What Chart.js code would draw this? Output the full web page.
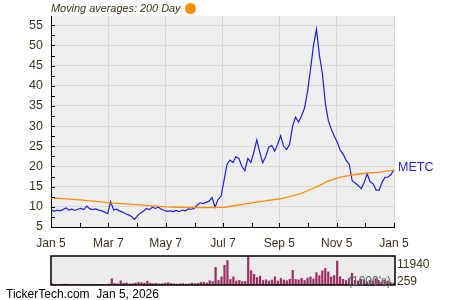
<!DOCTYPE html>
<html>
<head>
<meta charset="utf-8">
<script src="https://cdn.jsdelivr.net/npm/chart.js@4/dist/chart.umd.min.js"></script>
<style>
  body{
    margin:0;
    width:450px;
    height:300px;
    overflow:hidden;
    background:#fff;
    font-family:"Liberation Sans", Arial, sans-serif;
  }
  #priceChart{ position:absolute; left:0; top:0; }
  #volumeChart{ position:absolute; left:0; top:250px; }
  .txt{ position:absolute; white-space:nowrap; font-size:12px; line-height:14px; color:#3c3220; }
  #title{ left:51px; top:1px; font-style:italic; font-size:10.9px; }
  #dot{
    position:absolute; left:185px; top:3px;
    width:11px; height:11px; border-radius:50%;
    background:#ff8c00;
  }
  #footer{ left:6px; top:287px; color:#000; }
  #volMax{ left:397px; top:257px; }
  #volMin{ left:397px; top:274px; }
  #units{ left:348px; top:274px; color:#4a7060; z-index:2; }
</style>
</head>
<body>

<canvas id="priceChart" width="450" height="252"></canvas>
<canvas id="volumeChart" width="450" height="40"></canvas>

<div class="txt" id="title">Moving averages: 200 Day</div>
<div id="dot"></div>
<div class="txt" id="volMax">11940</div>
<div class="txt" id="volMin">259</div>
<div class="txt" id="units">(1000's)</div>
<div class="txt" id="footer">TickerTech.com&nbsp;&nbsp;Jan 5, 2026</div>

<script>

/* DATA */

const ticker = "METC";

// x axis: days since Jan 5, 2025
const tickDays = [0, 61, 122, 183, 243, 304, 365];
const tickLabels = ["Jan 5","Mar 7","May 7","Jul 7","Sep 5","Nov 5","Jan 5"];
const minorTickDays = [31, 92, 153, 214, 273, 334];

const yTicks = [5,10,15,20,25,30,35,40,45,50,55];
const yMinorTicks = [7.5,12.5,17.5,22.5,27.5,32.5,37.5,42.5,47.5,52.5];

// closing price, sampled evenly across the year
const priceValues = [
  9.4, 8.9, 9.2, 9.0, 9.3, 9.7, 9.2, 9.4, 9.1, 9.4,
  9.6, 9.3, 10.2, 9.5, 9.3, 9.5, 9.2, 9.0, 8.7, 8.3,
  11.3, 9.2, 9.4, 9.0, 8.7, 8.3, 8.0, 7.6, 6.9, 7.8,
  8.5, 8.9, 9.6, 9.3, 9.9, 9.6, 9.9, 9.4, 9.1, 8.9,
  9.0, 8.8, 9.1, 8.8, 9.2, 9.0, 9.5, 9.4, 9.6, 10.4,
  11.0, 10.8, 11.1, 11.4, 12.3, 9.9, 11.8, 12.6, 16.5, 20.5,
  21.6, 21.0, 22.4, 22.0, 20.0, 19.0, 22.0, 21.0, 23.5, 26.6,
  23.5, 20.9, 22.5, 24.8, 25.2, 23.8, 25.5, 27.6, 25.0, 24.2,
  25.5, 30.0, 32.2, 31.0, 32.5, 34.5, 38.5, 44.0, 50.0, 54.0,
  47.5, 43.0, 35.5, 31.3, 29.2, 27.5, 26.0, 24.0, 23.0, 21.5,
  20.5, 16.4, 15.9, 15.3, 14.5, 16.0, 18.2, 16.2, 15.7, 14.2,
  14.1, 16.1, 17.3, 17.4, 18.0, 19.2
];

// 200 day moving average
const maDays = [0, 31, 63, 95, 122, 137, 159, 185, 209, 228, 244, 265, 279, 286, 294, 307, 318, 329, 350, 365];
const maValues = [12.2, 11.7, 11.0, 10.5, 10.0, 9.9, 9.8, 9.9, 10.8, 11.5, 12.0, 13.2, 14.6, 15.3, 16.3, 17.3, 17.8, 18.2, 18.6, 19.1];

// volume (shares), same sampling as price
const volumeValues = [
  600, 400, 300, 400, 500, 450, 350, 400, 300, 350,
  400, 300, 350, 400, 300, 350, 400, 350, 400, 500,
  2700, 800, 600, 1900, 900, 1000, 600, 700, 900, 1200,
  1100, 900, 1700, 900, 700, 800, 600, 700, 900, 1100,
  800, 600, 500, 600, 700, 500, 600, 900, 700, 800,
  1200, 1300, 1000, 1900, 1500, 7400, 2000, 3500, 8200, 10200,
  2400, 3500, 1800, 2000, 1500, 1600, 11940, 6000, 4500, 3200,
  3800, 2000, 2300, 1800, 2200, 3500, 1800, 2900, 2200, 1900,
  2500, 6200, 2500, 2200, 2900, 2000, 3000, 3500, 2600, 5200,
  4000, 6000, 7000, 5500, 3500, 4000, 10000, 3500, 2500, 2000,
  2800, 5000, 2000, 1800, 2500, 2200, 1500, 2000, 1800, 2800,
  2000, 1500, 2200, 1800, 1200, 900
];
const volumeMax = 11940;

/* STYLE */

const textColor = "#3c3220";
const fontFamily = "'Liberation Sans', Arial, sans-serif";

/* PLUGINS */

const plotBackground = {
  id:"plotBackground",
  beforeDraw(chart){
    const {ctx, chartArea:a} = chart;
    ctx.save();
    ctx.fillStyle = "#eeeeee";
    ctx.fillRect(a.left, a.top, a.right - a.left, a.bottom - a.top);
    ctx.restore();
  }
};

const innerTicks = {
  id:"innerTicks",
  afterDraw(chart){
    const {ctx, chartArea:a, scales} = chart;
    ctx.save();
    ctx.strokeStyle = "#000";
    ctx.lineWidth = 1;
    ctx.beginPath();
    [...yTicks, ...yMinorTicks].forEach(v => {
      const y = Math.round(scales.y.getPixelForValue(v)) + 0.5;
      ctx.moveTo(a.left, y);
      ctx.lineTo(a.left + 4, y);
    });
    [...tickDays, ...minorTickDays].forEach(d => {
      const x = Math.round(scales.x.getPixelForValue(d)) + 0.5;
      ctx.moveTo(x, a.bottom);
      ctx.lineTo(x, a.bottom - 4);
    });
    ctx.stroke();

    // ticker label next to the last price
    const last = priceValues[priceValues.length - 1];
    ctx.fillStyle = "#1f1fd6";
    ctx.font = "12.5px " + fontFamily;
    ctx.textBaseline = "middle";
    ctx.fillText(ticker, a.right + 4, scales.y.getPixelForValue(last) - 2);
    ctx.restore();
  }
};

const volumeFrame = {
  id:"volumeFrame",
  beforeDraw(chart){
    const {ctx, chartArea:a} = chart;
    ctx.save();
    ctx.fillStyle = "#ececec";
    ctx.fillRect(a.left, a.top, a.right - a.left, a.bottom - a.top);
    ctx.restore();
  },
  afterDraw(chart){
    const {ctx, chartArea:a} = chart;
    ctx.save();
    ctx.strokeStyle = "#000";
    ctx.lineWidth = 1.5;
    ctx.strokeRect(a.left, a.top, a.right - a.left, a.bottom - a.top);
    ctx.restore();
  }
};

/* PRICE CHART */

const step = 365 / (priceValues.length - 1);

new Chart(document.getElementById("priceChart"), {
  type:"line",
  data:{
    datasets:[
      {
        label:"200 Day",
        data:maDays.map((d, i) => ({x:d, y:maValues[i]})),
        borderColor:"#ff8c00",
        borderWidth:1.3,
        pointRadius:0,
        tension:0
      },
      {
        label:ticker,
        data:priceValues.map((v, i) => ({x:i * step, y:v})),
        borderColor:"#1f1fd6",
        borderWidth:1.2,
        pointRadius:0,
        tension:0
      }
    ]
  },
  options:{
    responsive:false,
    animation:false,
    devicePixelRatio:1,
    layout:{ padding:{ top:16, right:56, left:0, bottom:0 } },
    plugins:{ legend:{ display:false }, tooltip:{ enabled:false } },
    scales:{
      x:{
        type:"linear",
        min:0,
        max:365,
        afterBuildTicks:scale => { scale.ticks = tickDays.map(v => ({value:v})); },
        afterFit:scale => { scale.height = 25; },
        grid:{ color:"#d8d8d8", drawTicks:false },
        border:{ color:"#000", width:1 },
        ticks:{
          autoSkip:false,
          maxRotation:0,
          padding:9,
          color:textColor,
          font:{ family:fontFamily, size:12 },
          callback:(value, index) => tickLabels[index]
        }
      },
      y:{
        min:5,
        max:57.3,
        afterBuildTicks:scale => { scale.ticks = yTicks.map(v => ({value:v})); },
        afterFit:scale => { scale.width = 51; },
        grid:{ color:"#d8d8d8", drawTicks:false },
        border:{ color:"#000", width:1 },
        ticks:{
          padding:8,
          color:textColor,
          font:{ family:fontFamily, size:12.5 }
        }
      }
    }
  },
  plugins:[plotBackground, innerTicks]
});

/* VOLUME CHART */

new Chart(document.getElementById("volumeChart"), {
  type:"bar",
  data:{
    labels:volumeValues.map((v, i) => i),
    datasets:[{
      data:volumeValues,
      backgroundColor:"#9c2f63",
      categoryPercentage:1,
      barPercentage:0.75
    }]
  },
  options:{
    responsive:false,
    animation:false,
    devicePixelRatio:1,
    layout:{ padding:{ top:6, right:55, left:51, bottom:5 } },
    plugins:{ legend:{ display:false }, tooltip:{ enabled:false } },
    scales:{
      x:{ display:false },
      y:{ display:false, min:0, max:volumeMax }
    }
  },
  plugins:[volumeFrame]
});

</script>
</body>
</html>
